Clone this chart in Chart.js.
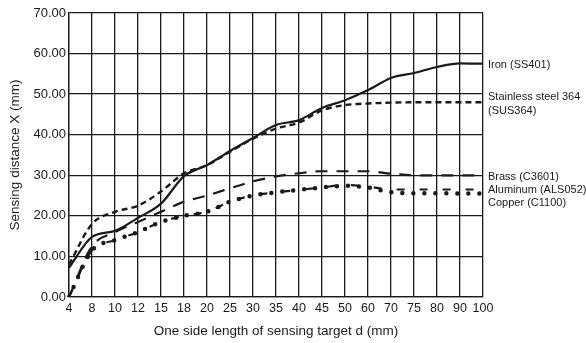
<!DOCTYPE html>
<html>
<head>
<meta charset="utf-8">
<script src="https://cdn.jsdelivr.net/npm/chart.js@4"></script>
<style>
  html, body { margin: 0; padding: 0; background: #fff; }
  canvas { display: block; }
</style>
</head>
<body>
<canvas id="chart" width="586" height="343"></canvas>
<script>
// target side length d (mm) - the axis is evenly spaced, not linear
const sizes = ['4', '8', '10', '12', '15', '18', '20', '25', '30', '35', '40', '45', '50', '60', '70', '75', '80', '90', '100'];

// sensing distance X (mm) per material
const iron      = [7.2, 14.8, 16.3, 19.5, 23.0, 29.8, 32.5, 36.0, 39.2, 42.4, 43.6, 46.6, 48.5, 51.0, 54.0, 55.2, 56.7, 57.6, 57.5];
const stainless = [8.0, 18.0, 21.0, 22.5, 26.0, 30.5, 32.5, 35.8, 39.0, 41.5, 43.0, 46.0, 47.3, 47.7, 47.9, 48.0, 48.0, 48.0, 48.0];
const brass     = [0.0, 12.5, 16.0, 18.5, 21.0, 23.5, 25.0, 26.8, 28.5, 29.7, 30.5, 31.0, 31.0, 31.0, 30.4, 30.0, 30.0, 30.0, 30.0];
const aluminum  = [0.0, 11.5, 14.0, 16.0, 18.5, 20.0, 21.0, 23.5, 25.0, 25.8, 26.4, 27.0, 27.6, 27.2, 26.5, 26.5, 26.5, 26.5, 26.5];
const copper    = [0.0, 11.5, 14.0, 16.0, 18.5, 20.0, 21.0, 23.5, 25.0, 25.8, 26.4, 27.0, 27.4, 27.0, 25.8, 25.6, 25.6, 25.5, 25.5];

// end-of-line labels, one entry per dataset
const endLabels = [
  ['Iron (SS401)'],
  ['Stainless steel 364', '(SUS364)'],
  ['Brass (C3601)'],
  ['Aluminum (ALS052)'],
  ['Copper (C1100)']
];

const FONT = 'Arial, "Liberation Sans", sans-serif';
const INK = '#1a1a1a';

// writes the material names to the right of the plot
const endLabelPlugin = {
  id: 'endLabels',
  afterDraw(chart) {
    const ctx = chart.ctx;
    const y = chart.scales.y;
    const nudge = [1, -5, 2, 0, 9];
    ctx.save();
    ctx.font = '11px ' + FONT;
    ctx.fillStyle = INK;
    ctx.textBaseline = 'middle';
    chart.data.datasets.forEach((ds, i) => {
      const last = ds.data[ds.data.length - 1];
      const lines = endLabels[i];
      const cy = y.getPixelForValue(last) + nudge[i];
      lines.forEach((t, k) => {
        ctx.fillText(t, chart.chartArea.right + 5, cy + k * 13.5);
      });
    });
    ctx.restore();
  }
};

function line(data, dash, width, cap) {
  return {
    data: data,
    borderColor: INK,
    borderWidth: width,
    borderDash: dash,
    borderCapStyle: cap || 'butt',
    pointRadius: 0,
    fill: false,
    cubicInterpolationMode: 'monotone'
  };
}

new Chart(document.getElementById('chart'), {
  type: 'line',
  data: {
    labels: sizes,
    datasets: [
      line(iron, [], 2.2),
      line(stainless, [6, 4], 2.4),
      line(brass, [12, 9], 2.2),
      line(aluminum, [8, 15], 2.2),
      line(copper, [0, 11], 4.5, 'round')
    ]
  },
  options: {
    responsive: false,
    animation: false,
    layout: { padding: { top: 13, right: 103, left: 0, bottom: 0 } },
    plugins: {
      legend: { display: false },
      tooltip: { enabled: false }
    },
    scales: {
      x: {
        offset: false,
        grid: { color: INK, lineWidth: 1.3, drawTicks: false },
        border: { color: INK, width: 1.3 },
        ticks: { color: INK, font: { family: FONT, size: 12.5 }, padding: 4, maxRotation: 0, autoSkip: false },
        title: { display: true, text: 'One side length of sensing target d (mm)', color: INK, font: { family: FONT, size: 13.5 }, padding: { top: 4, bottom: 4 } },
        afterFit(scale) { scale.height = 46; }
      },
      y: {
        min: 0,
        max: 70,
        grid: { color: INK, lineWidth: 1.3, drawTicks: false },
        border: { color: INK, width: 1.3 },
        ticks: { stepSize: 10, color: INK, font: { family: FONT, size: 13 }, padding: 3, callback: v => v.toFixed(2) },
        title: { display: true, text: 'Sensing distance X (mm)', color: INK, font: { family: FONT, size: 13.5 }, padding: { top: 7, bottom: 4 } },
        afterFit(scale) { scale.width = 69; }
      }
    }
  },
  plugins: [endLabelPlugin]
});
</script>
</body>
</html>
